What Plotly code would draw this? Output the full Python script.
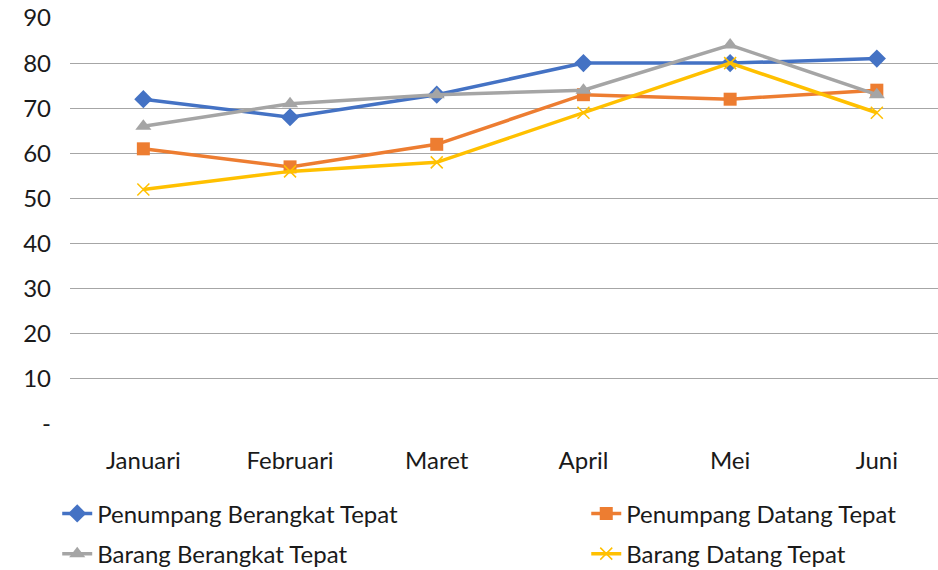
import plotly.graph_objects as go

months = ["Januari", "Februari", "Maret", "April", "Mei", "Juni"]
penumpang_berangkat = [72, 68, 73, 80, 80, 81]
penumpang_datang = [61, 57, 62, 73, 72, 74]
barang_berangkat = [66, 71, 73, 74, 84, 73]
barang_datang = [52, 56, 58, 69, 80, 69]

y_tickvals = [0, 10, 20, 30, 40, 50, 60, 70, 80, 90]
y_ticktext = ["-", "10", "20", "30", "40", "50", "60", "70", "80", "90"]

FONT = "Lato"
FS = 24
TXT = "#1a1a1a"
series = [
    ("Penumpang Berangkat Tepat", penumpang_berangkat, "#4472C4", "diamond", 14, "legend"),
    ("Penumpang Datang Tepat", penumpang_datang, "#ED7D31", "square", 13, "legend2"),
    ("Barang Berangkat Tepat", barang_berangkat, "#A5A5A5", "triangle-up", 14, "legend"),
    ("Barang Datang Tepat", barang_datang, "#FFC000", "x-thin-open", 12, "legend2"),
]

fig = go.Figure()
for i, (name, vals, color, sym, sz, lg) in enumerate(series):
    fig.add_trace(go.Scatter(
        x=list(range(len(months))), y=vals, name=name, mode="lines+markers",
        line=dict(color=color, width=3.5),
        marker=dict(symbol=sym, size=sz, color=color,
                    line=dict(color=color, width=1.5 if sym.startswith("x") else 0)),
        legend=lg, legendgroup=f"g{i}",
    ))

legend_common = dict(
    orientation="v", xref="container", yref="container",
    xanchor="left", yanchor="top", tracegroupgap=6,
    font=dict(family=FONT, size=FS, color=TXT), bgcolor="rgba(0,0,0,0)",
)

fig.update_layout(
    width=938, height=570,
    margin=dict(l=70, r=0, t=18, b=146, autoexpand=False),
    paper_bgcolor="white", plot_bgcolor="white",
    font=dict(family=FONT, size=FS, color=TXT),
    showlegend=True,
    legend=dict(x=0.061, y=0.138, **legend_common),
    legend2=dict(x=0.625, y=0.138, **legend_common),
)
fig.update_xaxes(
    range=[-0.5, 5.417], tickvals=list(range(len(months))), ticktext=months,
    showgrid=False, showline=False, zeroline=False, ticks="",
    ticklabelstandoff=20,
)
fig.update_yaxes(
    range=[0, 90], tickvals=y_tickvals, ticktext=y_ticktext,
    showgrid=True, gridcolor="#A6A6A6", gridwidth=1,
    zeroline=False, showline=False, ticks="", ticklabelstandoff=18,
)

fig.write_html("out.html", config={"displayModeBar": False},
               post_script="document.body.style.margin='0';")
